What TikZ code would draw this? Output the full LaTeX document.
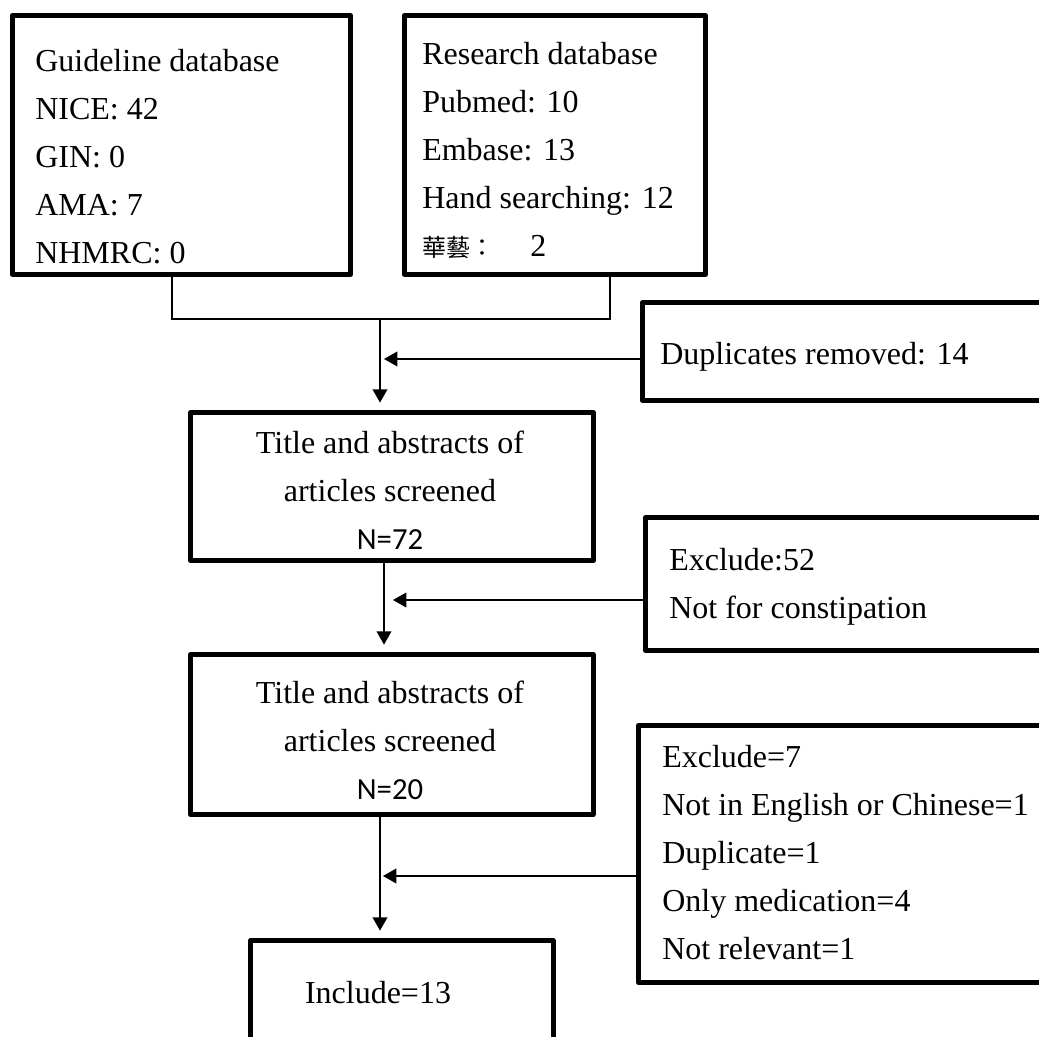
\documentclass[tikz,border=0pt]{standalone}
\usepackage{fontspec}
\setmainfont{Liberation Serif}
\newfontfamily\calib{Carlito}
\newfontfamily\cjk{Noto Sans CJK TC}
\usetikzlibrary{arrows.meta,fit}
\begin{document}
\begin{tikzpicture}[x=0.75pt,y=-0.75pt,
  box/.style={draw, line width=3.75pt, line join=round, inner sep=0pt},
  txt/.style={inner sep=0pt, align=left, font=\fontsize{24}{36}\selectfont},
  ctxt/.style={inner sep=0pt, align=center, font=\fontsize{24}{36}\selectfont},
  conn/.style={line width=1.2pt},
  arr/.style={conn, -{Triangle[length=10pt,width=11pt]}, shorten >=5.5pt}]
\useasboundingbox (0,0) rectangle (1039,1037);
\clip (0,0) rectangle (1039,1037);

% boxes
\node[box, fit={(12.5,15.5) (350.5,274.5)}] (g) {};
\node[box, fit={(404.5,15.5) (705.5,274.5)}] (r) {};
\node[box, fit={(642.5,302.5) (1060,400.5)}] (dup) {};
\node[box, fit={(190.5,412.5) (593.5,560.5)}] (s1) {};
\node[box, fit={(645.5,517.5) (1060,650.5)}] (ex1) {};
\node[box, fit={(190.5,654.5) (593,814.5)}] (s2) {};
\node[box, fit={(638.5,725.5) (1060,982.5)}] (ex2) {};
\node[box, fit={(250.5,940.5) (553,1080)}] (inc) {};

% texts (base anchor = baseline of the last line)
\node[txt, anchor=base west] (gt) at (35,264) {Guideline database\\NICE: 42\\GIN: 0\\AMA: 7\\NHMRC: 0};
\node[txt, anchor=base west] (rt) at (422,257) {Research database\\Pubmed: 10\\Embase: 13\\Hand searching: 12\\{\cjk\fontsize{18}{36}\selectfont 華藝：}\hspace{27pt}2};
\node[txt, anchor=base west] (dupt) at (660,365) {Duplicates removed: 14};
\node[ctxt, anchor=base] (s1t) at (390,549) {Title and abstracts of\\articles screened\\{\calib\fontsize{23}{36}\selectfont N=72}};
\node[txt, anchor=base west] (ex1t) at (669,618) {Exclude:52\\Not for constipation};
\node[ctxt, anchor=base] (s2t) at (390,799) {Title and abstracts of\\articles screened\\{\calib\fontsize{23}{36}\selectfont N=20}};
\node[txt, anchor=base west] (ex2t) at (662,959) {Exclude=7\\Not in English or Chinese=1\\Duplicate=1\\Only medication=4\\Not relevant=1};
\node[ctxt, anchor=base] (inct) at (378,1003) {Include=13};

% junction coordinates
\coordinate (j1) at (172,319);
\coordinate (j2) at (610,319);
\coordinate (j) at (380,319);
\coordinate (a1) at (384,359);
\coordinate (c2) at (384,600);
\coordinate (a2) at (393,600);
\coordinate (c3) at (380,876);
\coordinate (a3) at (383,876);

% connectors
\draw[conn] (j1 |- g.south) -- (j1) -- (j2) -- (j2 |- r.south);
\draw[arr] (j) -- (j |- s1.north);
\draw[arr, shorten >=0pt] (dup.west |- a1) -- (a1);
\draw[arr] (c2 |- s1.south) -- (c2 |- s2.north);
\draw[arr, shorten >=0pt] (ex1.west |- a2) -- (a2);
\draw[arr] (c3 |- s2.south) -- (c3 |- inc.north);
\draw[arr, shorten >=0pt] (ex2.west |- a3) -- (a3);
\end{tikzpicture}
\end{document}
